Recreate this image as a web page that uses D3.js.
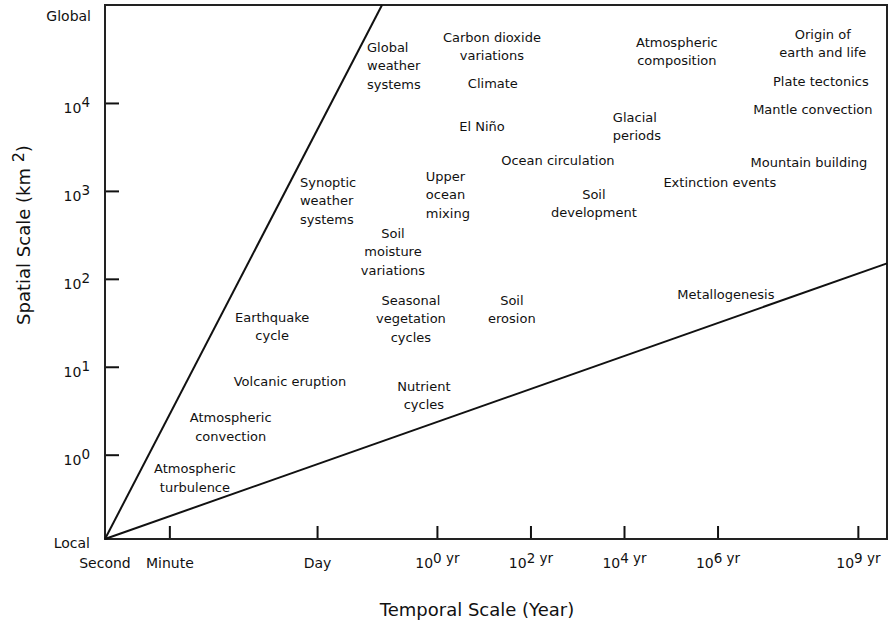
<!DOCTYPE html>
<html><head><meta charset="utf-8">
<script src="https://cdn.jsdelivr.net/npm/d3@7"></script>
<style>
body{margin:0;background:#fff}
svg{display:block}
text{font-family:"DejaVu Sans",sans-serif;fill:#111}
</style>
</head><body><svg id="c" width="891" height="622"></svg>
<script>
// ---- data ----
const timeDomain = [8e-8, 4.2e9];          // years (left edge = second, right edge)
const areaDomain = [0.11, 1.3e5];          // km^2 (bottom = local, top = global)

const xTickValues = [1/525960, 1/365.25, 1, 1e2, 1e4, 1e6, 1e9];
const xTickBase   = ["Minute", "Day", "10", "10", "10", "10", "10"];
const xTickSup    = ["", "", "0 yr", "2 yr", "4 yr", "6 yr", "9 yr"];

const yTickValues = [1, 10, 100, 1000, 10000];
const yTickBase   = ["10", "10", "10", "10", "10"];
const yTickSup    = ["0", "1", "2", "3", "4"];

const steepLine   = [[8e-8, 0.11], [0.067, 1.3e5]];
const shallowLine = [[8e-8, 0.11], [4.2e9, 150]];

const labelText = [
  ["Atmospheric", "turbulence"],
  ["Atmospheric", "convection"],
  ["Volcanic eruption"],
  ["Earthquake", "cycle"],
  ["Synoptic", "weather", "systems"],
  ["Global", "weather", "systems"],
  ["Soil", "moisture", "variations"],
  ["Upper", "ocean", "mixing"],
  ["Carbon dioxide", "variations"],
  ["Climate"],
  ["El Niño"],
  ["Ocean circulation"],
  ["Seasonal", "vegetation", "cycles"],
  ["Soil", "erosion"],
  ["Nutrient", "cycles"],
  ["Soil", "development"],
  ["Glacial", "periods"],
  ["Atmospheric", "composition"],
  ["Extinction events"],
  ["Metallogenesis"],
  ["Origin of", "earth and life"],
  ["Plate tectonics"],
  ["Mantle convection"],
  ["Mountain building"]
];
const labelTime = [6.7e-6, 3.9e-5, 7.2e-4, 3.0e-4, 1.18e-3, 0.032, 0.115, 0.58, 15, 15.7, 9.2, 386,
                   0.278, 40, 0.527, 2270, 5780, 1.35e5, 1.12e6, 1.51e6, 1.78e8, 1.62e8, 1.09e8, 9.0e7];
const labelArea = [0.70, 2.66, 6.84, 36.6, 1256, 43150, 330, 1469, 56100, 16800, 5450, 2234,
                   57.1, 57.1, 6.0, 919, 6890, 49200, 1256, 66.8, 60700, 17700, 8490, 2120];
const labelAlign = ["middle","middle","middle","middle","start","start","middle","start","middle","middle","middle","middle",
                    "middle","middle","middle","middle","start","middle","middle","middle","middle","middle","middle","middle"];

// ---- drawing ----
const svg = d3.select("#c");
const x = d3.scaleLog().domain(timeDomain).range([105, 887]);
const y = d3.scaleLog().domain(areaDomain).range([539, 5]);

// x axis
const xa = svg.append("g").attr("transform", "translate(0,539)")
  .call(d3.axisBottom(x).tickValues(xTickValues).tickSizeInner(-13).tickSizeOuter(0).tickFormat(""));
xa.select(".domain").remove();
xa.selectAll(".tick line").attr("stroke", "#111").attr("stroke-width", 2);
xa.selectAll(".tick text").each(function(d, i) {
  const t = d3.select(this).attr("dy", null).attr("y", 29).attr("font-size", 14).attr("fill", "#111");
  t.append("tspan").text(xTickBase[i]);
  if (xTickSup[i]) t.append("tspan").attr("dy", -5).attr("font-size", 13.5).text(xTickSup[i]);
});

// y axis
const ya = svg.append("g").attr("transform", "translate(105,0)")
  .call(d3.axisLeft(y).tickValues(yTickValues).tickSizeInner(-14).tickSizeOuter(0).tickPadding(15).tickFormat(""));
ya.select(".domain").remove();
ya.selectAll(".tick line").attr("stroke", "#111").attr("stroke-width", 2);
ya.selectAll(".tick text").each(function(d, i) {
  const t = d3.select(this).attr("dy", null).attr("y", 10).attr("font-size", 14).attr("fill", "#111");
  t.append("tspan").text(yTickBase[i]);
  t.append("tspan").attr("dy", -6).attr("font-size", 13.5).text(yTickSup[i]);
});

// end labels
svg.append("text").attr("x", 91).attr("y", y(1e5) + 6).attr("text-anchor", "end").attr("font-size", 14).text("Global");
svg.append("text").attr("x", 90).attr("y", y(areaDomain[0]) + 9).attr("text-anchor", "end").attr("font-size", 14).text("Local");
svg.append("text").attr("x", x(timeDomain[0])).attr("y", 568).attr("text-anchor", "middle").attr("font-size", 14).text("Second");

// box
svg.append("rect").attr("x", x(timeDomain[0])).attr("y", y(areaDomain[1]))
  .attr("width", x(timeDomain[1]) - x(timeDomain[0])).attr("height", y(areaDomain[0]) - y(areaDomain[1]))
  .attr("fill", "none").attr("stroke", "#222").attr("stroke-width", 2);

// diagonal lines
const line = d3.line().x(d => x(d[0])).y(d => y(d[1]));
[steepLine, shallowLine].forEach(l => {
  svg.append("path").attr("d", line(l)).attr("fill", "none").attr("stroke", "#111").attr("stroke-width", 2);
});

// phenomenon labels
labelText.forEach((lines, i) => {
  const px = x(labelTime[i]), py = y(labelArea[i]);
  const t = svg.append("text").attr("x", px).attr("y", py).attr("text-anchor", labelAlign[i]).attr("font-size", 13);
  lines.forEach((s, j) => {
    t.append("tspan").attr("x", px).attr("dy", j === 0 ? "0.36em" : 18.5).text(s);
  });
});

// axis titles
svg.append("text").attr("x", 477).attr("y", 616).attr("text-anchor", "middle").attr("font-size", 18)
  .text("Temporal Scale (Year)");
const yt = svg.append("text").attr("transform", "translate(30,235) rotate(-90)").attr("text-anchor", "middle").attr("font-size", 18);
yt.append("tspan").text("Spatial Scale (km ");
yt.append("tspan").attr("dy", -6).attr("font-size", 16).text("2");
yt.append("tspan").attr("dy", 6).text(")");
</script></body></html>
